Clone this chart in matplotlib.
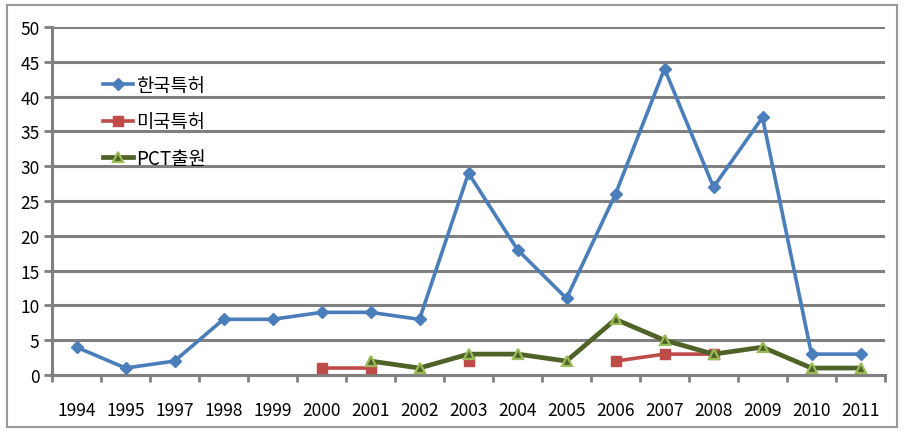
import numpy as np
import matplotlib
matplotlib.use("Agg")
import matplotlib.pyplot as plt
from matplotlib.patches import Rectangle

plt.rcParams['font.family'] = ['Noto Sans CJK KR', 'DejaVu Sans']

years = ["1994", "1995", "1997", "1998", "1999", "2000", "2001", "2002", "2003",
         "2004", "2005", "2006", "2007", "2008", "2009", "2010", "2011"]
korea = [4, 1, 2, 8, 8, 9, 9, 8, 29, 18, 11, 26, 44, 27, 37, 3, 3]
nan = np.nan
us = [nan, nan, nan, nan, nan, 1, 1, nan, 2, nan, nan, 2, 3, 3, nan, nan, nan]
pct = [nan, nan, nan, nan, nan, nan, 2, 1, 3, 3, 2, 8, 5, 3, 4, 1, 1]
labels = ["한국특허", "미국특허", "PCT출원"]

fig = plt.figure(figsize=(9.05, 4.35), dpi=100)
W, H = 905, 435
ax = fig.add_axes([52 / W, 1 - 376 / H, (885 - 52) / W, (376 - 28) / H])

x = np.arange(len(years))
ax.plot(x, korea, color='#4A7EBB', lw=2.6, marker='D', ms=6.5,
        mfc='#4A7EBB', mec='#4A7EBB', label=labels[0], zorder=3)
ax.plot(x, us, color='#BE4B48', lw=2.6, marker='s', ms=7.5,
        mfc='#BE4B48', mec='#BE4B48', label=labels[1], zorder=3)
ax.plot(x, pct, color='#4F6228', lw=3.4, marker='^', ms=7.5,
        mfc='#4F6228', mec='#9BBB59', mew=1.6, label=labels[2], zorder=4)

ax.set_xlim(-0.5, len(years) - 0.5)
ax.set_ylim(0, 50)
ax.set_yticks(np.arange(0, 51, 5))
ax.set_xticks(x)
ax.set_xticklabels(years)
ax.set_xticks(np.arange(-0.5, len(years), 1), minor=True)
ax.tick_params(axis='x', which='major', length=0, pad=19, labelsize=12.5)
ax.tick_params(axis='x', which='minor', length=5, width=2, color='#808080')
ax.tick_params(axis='y', length=6, width=2, color='#808080', labelsize=12.5, pad=3)
ax.yaxis.grid(True, color='#808080', lw=2.2)
ax.set_axisbelow(True)
for s in ['top', 'right']:
    ax.spines[s].set_visible(False)
ax.spines['left'].set_color('#808080')
ax.spines['left'].set_linewidth(2.2)
ax.spines['bottom'].set_color('#808080')
ax.spines['bottom'].set_linewidth(2.2)

leg = ax.legend(loc='upper left', bbox_to_anchor=(0.052, 0.885), frameon=False,
                fontsize=13.5, handlelength=1.6, handletextpad=0.15, labelspacing=0.84,
                borderaxespad=0)

fig.patches.append(Rectangle((7 / W, 1 - 428 / H), (897 - 7) / W, (428 - 6) / H,
                             transform=fig.transFigure, fill=False,
                             edgecolor='#9a9a9a', lw=1.5))

fig.savefig("out.png", dpi=100)
